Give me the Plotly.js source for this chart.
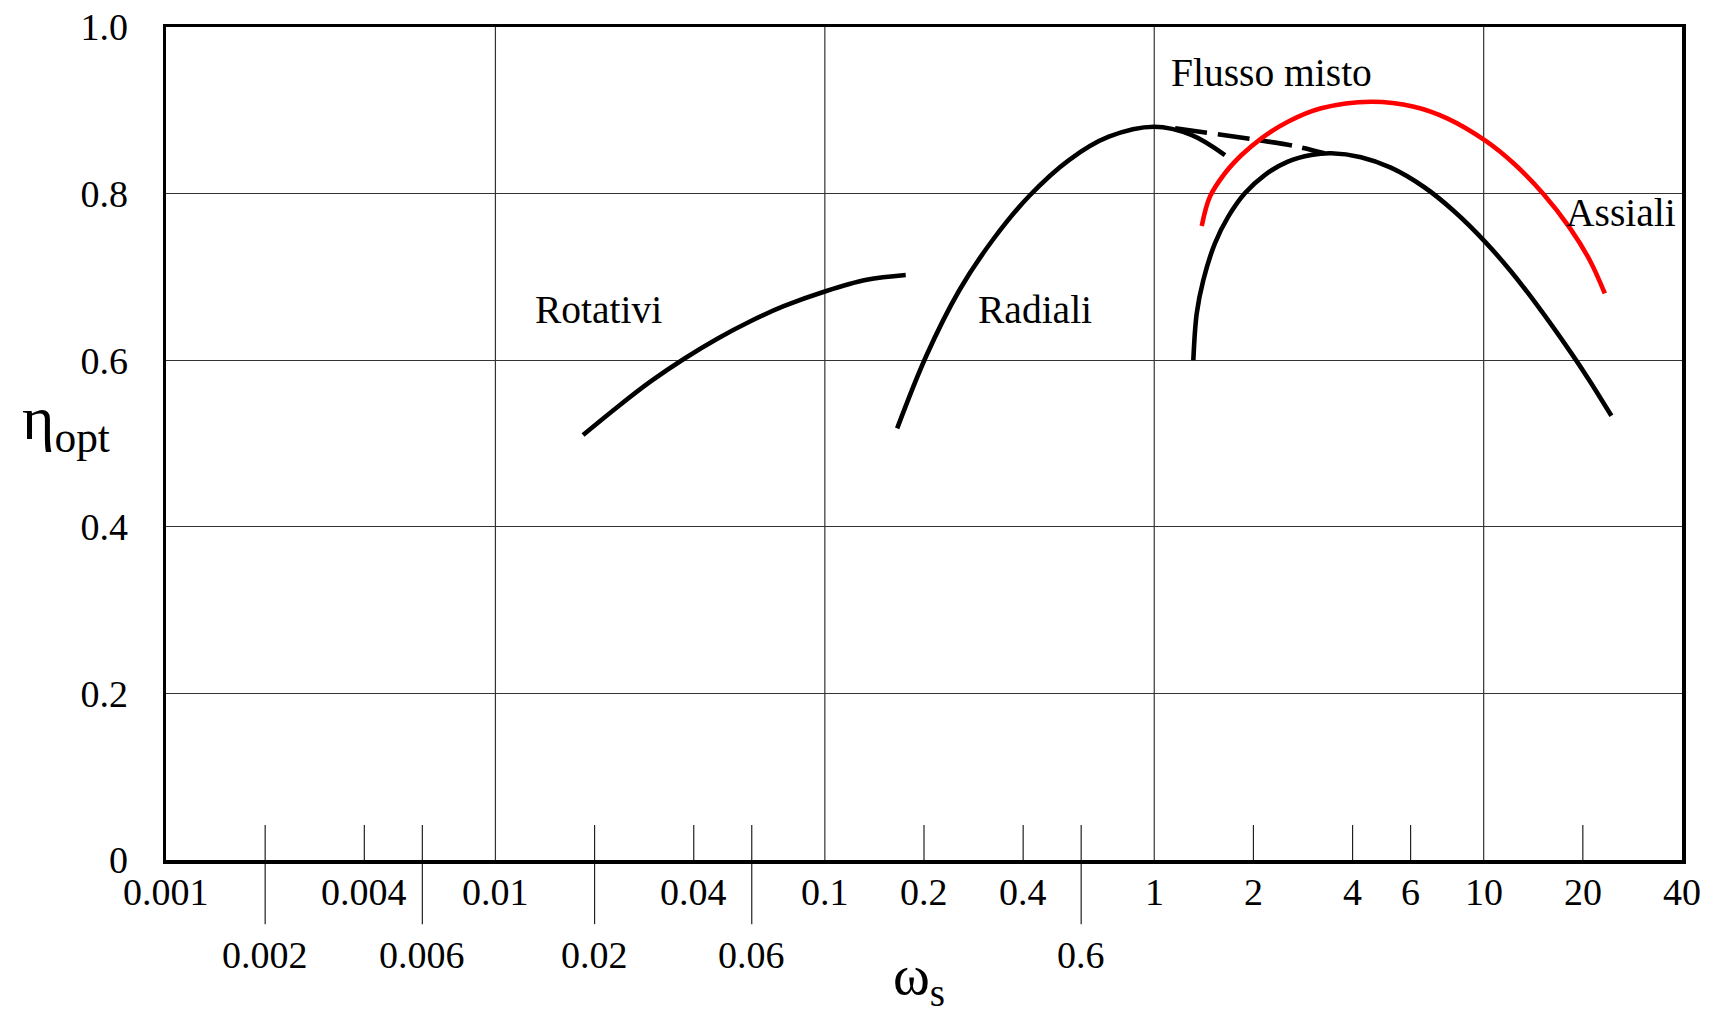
<!DOCTYPE html>
<html>
<head>
<meta charset="utf-8">
<script src="https://cdn.plot.ly/plotly-3.0.1.min.js"></script>
<style>html,body{margin:0;padding:0;background:#fff;}#chart{width:1709px;height:1018px;}</style>
</head>
<body>
<div id="chart"></div>
<script>
// ---- data ----
const rotativiX = [0.01845, 0.02352, 0.02967, 0.03741, 0.04717, 0.05946, 0.07502, 0.1005, 0.1339, 0.1760];
const rotativiY = [0.5102, 0.5442, 0.5748, 0.6018, 0.6258, 0.6468, 0.6648, 0.6828, 0.6965, 0.7023];

const radialiX = [0.1658, 0.2033, 0.2563, 0.3233, 0.4172, 0.551, 0.7277, 1.0, 1.30, 1.639];
const radialiY = [0.5182, 0.6054, 0.6843, 0.7443, 0.7971, 0.8403, 0.8683, 0.8803, 0.8703, 0.8463];

const dashX = [1.157, 2.066, 2.729, 3.286];
const dashY = [0.8784, 0.8643, 0.8563, 0.8484];

const mistoX = [1.3142, 1.3459, 1.4093, 1.5283, 1.6772, 1.8834, 2.1642, 2.5449, 2.9949, 3.4431,
                4.2423, 5.2272, 6.588, 8.118, 10.12, 12.04, 14.49, 18.49, 21.01, 24.42];
const mistoY = [0.600, 0.6563, 0.6963, 0.7403, 0.7723, 0.8004, 0.8223, 0.8383, 0.8463, 0.8484,
                0.8437, 0.8311, 0.8079, 0.7791, 0.7418, 0.7076, 0.6667, 0.6079, 0.5748, 0.5333];

const assialiX = [1.3937, 1.476, 1.6388, 1.8408, 2.1152, 2.5449, 3.2111, 4.547, 6.145, 7.746,
                  10.12, 12.32, 15.18, 18.28, 21.01, 23.32];
const assialiY = [0.7611, 0.7963, 0.8244, 0.8463, 0.8664, 0.8863, 0.9024, 0.9103, 0.9043, 0.8903,
                  0.8635, 0.8364, 0.7996, 0.7586, 0.7197, 0.6801];

const yTickVals = [0, 0.2, 0.4, 0.6, 0.8, 1.0];
const yTickText = ['0', '0.2', '0.4', '0.6', '0.8', '1.0'];
const xGridVals = [0.01, 0.1, 1, 10];
const xRow1Vals = [0.001, 0.004, 0.01, 0.04, 0.1, 0.2, 0.4, 1, 2, 4, 6, 10, 20, 40];
const xRow1Text = ['0.001', '0.004', '0.01', '0.04', '0.1', '0.2', '0.4', '1', '2', '4', '6', '10', '20', '40'];
const xRow2Vals = [0.002, 0.006, 0.02, 0.06, 0.6];
const xRow2Text = ['0.002', '0.006', '0.02', '0.06', '0.6'];
const xShortTicks = [0.002, 0.004, 0.006, 0.02, 0.04, 0.06, 0.2, 0.4, 0.6, 2, 4, 6, 20];

const curveLabels = ['Rotativi', 'Radiali', 'Flusso misto', 'Assiali'];
const curveLabelX = [0.0206, 0.434, 2.27, 26.2];
const curveLabelY = [0.660, 0.660, 0.945, 0.777];

// ---- chart ----
const FONT = '"Liberation Serif", "Times New Roman", Times, serif';
const lineStyle = {color: '#000', width: 4.6, shape: 'spline', smoothing: 1};

const traces = [
  {x: rotativiX, y: rotativiY, mode: 'lines', line: lineStyle, name: 'Rotativi'},
  {x: radialiX, y: radialiY, mode: 'lines', line: lineStyle, name: 'Radiali'},
  {x: dashX, y: dashY, mode: 'lines', line: Object.assign({}, lineStyle, {dash: '32px,11px'}), name: 'Flusso misto (tratteggio)'},
  {x: mistoX, y: mistoY, mode: 'lines', line: lineStyle, name: 'Flusso misto'},
  {x: assialiX, y: assialiY, mode: 'lines', line: Object.assign({}, lineStyle, {color: '#ff0000'}), name: 'Assiali'}
];

const shapes = [];
xGridVals.forEach(v => shapes.push({type: 'line', xref: 'x', yref: 'paper', x0: v, x1: v, y0: 0, y1: 1,
  line: {color: '#333', width: 1.2}, layer: 'below'}));
xShortTicks.forEach(v => {
  const below = xRow2Vals.indexOf(v) >= 0;
  shapes.push({type: 'line', xref: 'x', yref: 'paper', x0: v, x1: v, y0: below ? -0.077 : 0, y1: 0.042,
    line: {color: '#222', width: 1.2}, layer: 'below'});
});

const annotations = [];
xRow1Vals.forEach((v, i) => annotations.push({xref: 'x', yref: 'paper', x: Math.log10(v), y: -0.038,
  text: xRow1Text[i], showarrow: false, xanchor: 'center', yanchor: 'middle', font: {family: FONT, size: 38, color: '#000'}}));
xRow2Vals.forEach((v, i) => annotations.push({xref: 'x', yref: 'paper', x: Math.log10(v), y: -0.114,
  text: xRow2Text[i], showarrow: false, xanchor: 'center', yanchor: 'middle', font: {family: FONT, size: 38, color: '#000'}}));
curveLabels.forEach((t, i) => annotations.push({xref: 'x', yref: 'y', x: Math.log10(curveLabelX[i]), y: curveLabelY[i],
  text: t, showarrow: false, xanchor: 'center', yanchor: 'middle', font: {family: FONT, size: 39.5, color: '#000'}}));
annotations.push({xref: 'paper', yref: 'paper', x: -0.066, y: 0.525, text: 'η<sub>opt</sub>', showarrow: false,
  xanchor: 'center', yanchor: 'middle', font: {family: FONT, size: 62, color: '#000'}});
annotations.push({xref: 'paper', yref: 'paper', x: 0.497, y: -0.143, text: 'ω<sub>s</sub>', showarrow: false,
  xanchor: 'center', yanchor: 'middle', font: {family: FONT, size: 56, color: '#000'}});

const layout = {
  width: 1709, height: 1018,
  margin: {l: 166, r: 27, t: 27, b: 158},
  paper_bgcolor: '#fff', plot_bgcolor: '#fff',
  showlegend: false,
  font: {family: FONT, size: 38, color: '#000'},
  xaxis: {type: 'log', range: [-3, Math.log10(40)], tickvals: xGridVals, showticklabels: false, ticks: '',
    showgrid: false, zeroline: false, showline: true, linecolor: '#000', linewidth: 3.5, mirror: true},
  yaxis: {range: [0, 1], tickvals: yTickVals, ticktext: yTickText, ticks: '', ticklabelstandoff: 27,
    showgrid: true, gridcolor: '#333', gridwidth: 1.2, zeroline: false, showline: true, linecolor: '#000',
    linewidth: 3.5, mirror: true, tickfont: {family: FONT, size: 38, color: '#000'}},
  shapes: shapes,
  annotations: annotations
};

Plotly.newPlot('chart', traces, layout, {displayModeBar: false, staticPlot: true});
</script>
</body>
</html>
